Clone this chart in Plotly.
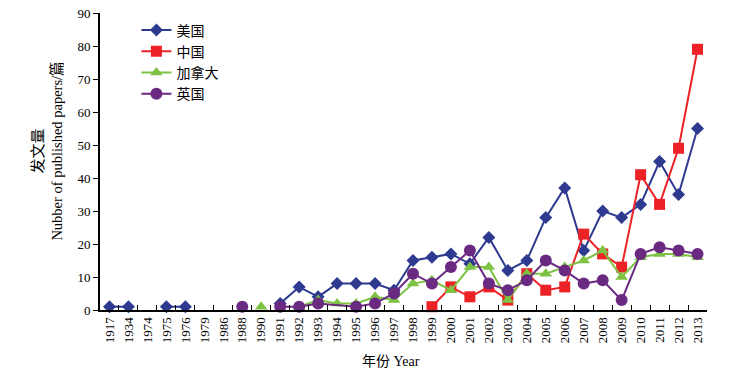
import plotly.graph_objects as go

categories = ["1917", "1934", "1974", "1975", "1976", "1979", "1986", "1988", "1990",
              "1991", "1992", "1993", "1994", "1995", "1996", "1997", "1998", "1999",
              "2000", "2001", "2002", "2003", "2004", "2005", "2006", "2007", "2008",
              "2009", "2010", "2011", "2012", "2013"]

# None = break in the line
usa_years = ["1917", "1934", "1974", "1975", "1976", "1979",
             "1991", "1992", "1993", "1994", "1995", "1996", "1997", "1998", "1999",
             "2000", "2001", "2002", "2003", "2004", "2005", "2006", "2007", "2008",
             "2009", "2010", "2011", "2012", "2013"]
usa_vals = [1, 1, None, 1, 1, None,
            2, 7, 4, 8, 8, 8, 6, 15, 16,
            17, 14, 22, 12, 15, 28, 37, 18, 30,
            28, 32, 45, 35, 55]

china_years = ["1999", "2000", "2001", "2002", "2003", "2004", "2005", "2006", "2007",
               "2008", "2009", "2010", "2011", "2012", "2013"]
china_vals = [1, 7, 4, 7, 3, 11, 6, 7, 23, 17, 13, 41, 32, 49, 79]

canada_years = ["1990", "1991", "1992", "1993", "1994", "1995", "1996", "1997", "1998",
                "1999", "2000", "2001", "2002", "2003", "2004", "2005", "2006", "2007",
                "2008", "2009", "2010", "2011", "2012", "2013"]
canada_vals = [1, None, 1, 3, 2, 2, 4, 3, 8,
               9, 6, 13, 13, 3, 11, 11, 13, 15,
               18, 10, 16, 17, 17, 16]

uk_years = ["1988", "1990", "1991", "1992", "1993", "1995", "1996", "1997", "1998",
            "1999", "2000", "2001", "2002", "2003", "2004", "2005", "2006", "2007",
            "2008", "2009", "2010", "2011", "2012", "2013"]
uk_vals = [1, None, 1, 1, 2, 1, 2, 5, 11,
           8, 13, 18, 8, 6, 9, 15, 12, 8,
           9, 3, 17, 19, 18, 17]

series = [
    ("美国", usa_years, usa_vals, "#2E3A8F", "diamond", 10),
    ("中国", china_years, china_vals, "#EC2227", "square", 11),
    ("加拿大", canada_years, canada_vals, "#7DC243", "triangle-up", 11),
    ("英国", uk_years, uk_vals, "#6A2A82", "circle", 12),
]

FONT = "Liberation Serif, Times New Roman, Noto Sans CJK SC, serif"

fig = go.Figure()
for name, xs, ys, color, symbol, size in series:
    fig.add_trace(go.Scatter(
        x=xs, y=ys, name=name, mode="lines+markers",
        connectgaps=False,
        line=dict(color=color, width=2),
        marker=dict(symbol=symbol, size=size, color=color, line=dict(width=0)),
        cliponaxis=False,
    ))

fig.update_layout(
    width=746, height=376,
    autosize=False,
    margin=dict(l=100, r=39, t=13, b=66, autoexpand=False),
    paper_bgcolor="white", plot_bgcolor="white",
    font=dict(family=FONT, size=13, color="black"),
    showlegend=True,
    legend=dict(x=0.06, y=0.995, xanchor="left", yanchor="top",
                bgcolor="rgba(0,0,0,0)", font=dict(size=14, family="Noto Sans CJK SC"),
                tracegroupgap=0, itemwidth=30),
    xaxis=dict(
        type="category", categoryorder="array", categoryarray=categories,
        range=[-0.5, len(categories) - 0.5],
        showline=True, linecolor="black", linewidth=2,
        ticks="inside", tickson="boundaries", ticklen=5, tickcolor="black", tickwidth=1,
        tickangle=-90, tickfont=dict(size=13, family=FONT),
        showgrid=False, zeroline=False, automargin=False,
    ),
    yaxis=dict(
        range=[0, 90], dtick=10, tick0=0,
        showline=True, linecolor="black", linewidth=2,
        ticks="outside", ticklen=5, tickcolor="black", tickwidth=1,
        tickfont=dict(size=13, family=FONT),
        showgrid=False, zeroline=False, automargin=False,
    ),
    annotations=[
        dict(text="<span style='font-size:15px'>发文量</span><br>Nubber of published papers/篇",
             textangle=-90,
             xref="paper", yref="paper", x=(47.5 - 100) / 607, y=0.535,
             xanchor="center", yanchor="middle", showarrow=False,
             font=dict(size=14.5, family=FONT)),
        dict(text="年份 Year", xref="paper", yref="paper",
             x=(391 - 100) / 607, y=-(361 - 310) / 297,
             xanchor="center", yanchor="middle", showarrow=False,
             font=dict(size=14, family=FONT)),
    ],
)

fig.write_html("out.html", config={"displayModeBar": False},
               post_script="document.body.style.margin='0';")
